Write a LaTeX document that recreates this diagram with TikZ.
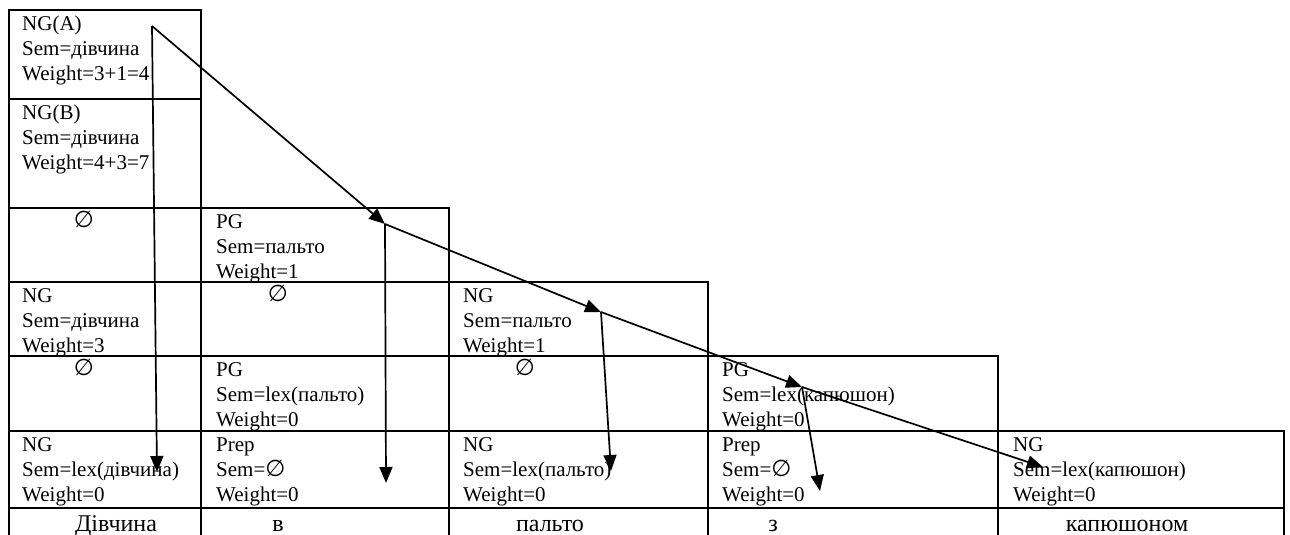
\documentclass[tikz,border=0pt]{standalone}
\usepackage{fontspec}
\setmainfont{Liberation Serif}
\newfontfamily\symf{DejaVu Sans}
\newcommand{\emp}{{\symf\fontsize{23}{25}\selectfont ∅}}
\usetikzlibrary{arrows.meta}
\begin{document}
\begin{tikzpicture}[x=1pt,y=-1pt,
  gridline/.style={line width=1.9pt},
  txt/.style={anchor=north west, inner sep=0pt, align=left, font=\fontsize{21}{25}\selectfont},
  empt/.style={anchor=base, inner sep=0pt, font=\fontsize{21}{25}\selectfont},
  word/.style={anchor=base, inner sep=0pt, font=\fontsize{24}{28}\selectfont},
  arr/.style={line width=1.7pt, -{Triangle[length=16pt,width=13pt]}}]
\fill[white] (0,0) rectangle (1290,535);
\useasboundingbox (0,0) rectangle (1290,535);
% grid
\begin{scope}[gridline]
\draw (9,10) -- (201,10);
\draw (9,99) -- (201,99);
\draw (9,208) -- (449,208);
\draw (9,282) -- (708,282);
\draw (9,356) -- (998,356);
\draw (9,431) -- (1284,431);
\draw (9,508) -- (1284,508);
\draw (9,9) -- (9,536);
\draw (201,9) -- (201,536);
\draw (449,207) -- (449,536);
\draw (708,281) -- (708,536);
\draw (998,355) -- (998,536);
\draw (1284,430) -- (1284,536);
\end{scope}
% row 0,1
\node[txt] (ngA) at (22,12.5) {\strut NG(A)\\Sem=дівчина\\Weight=3+1=4};
\node[txt] (ngB) at (22,101.5) {\strut NG(B)\\Sem=дівчина\\Weight=4+3=7};
% row 2
\node[empt] (e21) at (84,227) {\emp};
\node[txt] (pg22) at (216,210.5) {\strut PG\\Sem=пальто\\Weight=1};
% row 3
\node[txt] (ng31) at (22,284.5) {\strut NG\\Sem=дівчина\\Weight=3};
\node[empt] (e32) at (278,301) {\emp};
\node[txt] (ng33) at (463,284.5) {\strut NG\\Sem=пальто\\Weight=1};
% row 4
\node[empt] (e41) at (84,375) {\emp};
\node[txt] (pg42) at (216,358.5) {\strut PG\\Sem=lex(пальто)\\Weight=0};
\node[empt] (e43) at (525,375) {\emp};
\node[txt] (pg44) at (722,358.5) {\strut PG\\Sem=lex(капюшон)\\Weight=0};
% row 5
\node[txt] (ng51) at (22,433.5) {\strut NG\\Sem=lex(дівчина)\\Weight=0};
\node[txt] (pr52) at (216,433.5) {\strut Prep\\Sem=\emp\\Weight=0};
\node[txt] (ng53) at (463,433.5) {\strut NG\\Sem=lex(пальто)\\Weight=0};
\node[txt] (pr54) at (722,433.5) {\strut Prep\\Sem=\emp\\Weight=0};
\node[txt] (ng55) at (1013,433.5) {\strut NG\\Sem=lex(капюшон)\\Weight=0};
% words
\node[word] (w1) at (116,531) {Дівчина};
\node[word] (w2) at (278,531) {в};
\node[word] (w3) at (550,531) {пальто};
\node[word] (w4) at (773,531) {з};
\node[word] (w5) at (1127,531) {капюшоном};
% arrows
\coordinate (pA) at (152,26);
\coordinate (tA) at (157,472);
\coordinate (pPG) at (385,224);
\coordinate (tPG) at (386,483);
\coordinate (pNG) at (601,312);
\coordinate (tNG) at (611,471);
\coordinate (pPGb) at (802,387);
\coordinate (tPrep) at (820,491);
\coordinate (tNGb) at (1043,467);
\draw[arr] (pA) -- (tA);
\draw[arr] (pA) -- (pPG);
\draw[arr] (pPG) -- (tPG);
\draw[arr] (pPG) -- (pNG);
\draw[arr] (pNG) -- (tNG);
\draw[arr] (pNG) -- (pPGb);
\draw[arr] (pPGb) -- (tPrep);
\draw[arr] (pPGb) -- (tNGb);
\end{tikzpicture}
\end{document}
